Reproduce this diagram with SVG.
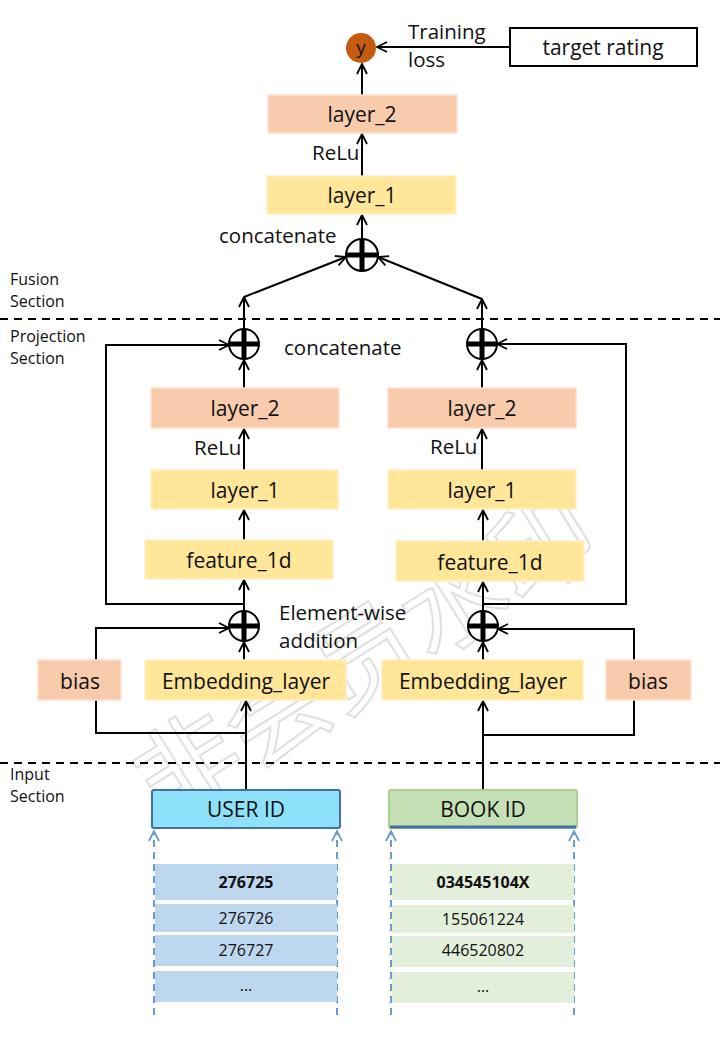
<svg xmlns="http://www.w3.org/2000/svg" width="720" height="1057" viewBox="0 0 720 1057">
<defs>
<marker id="ah" viewBox="0 0 12 12" refX="11" refY="6" markerWidth="12" markerHeight="12" markerUnits="userSpaceOnUse" orient="auto">
<path d="M1,1 L11,6 L1,11" fill="none" stroke="#000" stroke-width="1.8"/>
</marker>
<marker id="bh" viewBox="0 0 12 12" refX="11" refY="6" markerWidth="12" markerHeight="12" markerUnits="userSpaceOnUse" orient="auto">
<path d="M1,1 L11,6 L1,11" fill="none" stroke="#6a9bd1" stroke-width="1.8"/>
</marker>
</defs>
<style>
text{font-family:"Open Sans","Liberation Sans",sans-serif;fill:#111}
.lbl{font-size:21px;text-anchor:middle;dominant-baseline:central}
.note{font-size:20.5px}
.sec{font-size:16px}
.peach{fill:#f8cbad;stroke:#fbe0cf;stroke-width:1.5}
.yel{fill:#ffe699;stroke:#fff0c4;stroke-width:1.5}
.ln{fill:none;stroke:#000;stroke-width:2}
.arr{fill:none;stroke:#000;stroke-width:2;marker-end:url(#ah)}
.dash{stroke:#000;stroke-width:1.8;stroke-dasharray:8,6}
.bdash{fill:none;stroke:#6a9bd1;stroke-width:2;stroke-dasharray:7,5;marker-end:url(#bh)}
.tb{font-size:16px;text-anchor:middle;dominant-baseline:central}
.plus{fill:#fff;stroke:#000;stroke-width:2}
.bar{stroke:#000;stroke-width:5}
</style>
<rect width="720" height="1057" fill="#fff"/>
<text x="360" y="650" transform="rotate(-32 360 650)" font-size="104" text-anchor="middle" dominant-baseline="central" style="font-family:'Noto Sans CJK SC',sans-serif;fill:none;stroke:#e0e0e0;stroke-width:2">非会员水印</text>

<g id="sections">
<line x1="0" y1="319" x2="720" y2="319" class="dash"/>
<line x1="0" y1="763" x2="720" y2="763" class="dash"/>
<text x="10" y="285" class="sec">Fusion</text>
<text x="10" y="307" class="sec">Section</text>
<text x="10" y="342" class="sec">Projection</text>
<text x="10" y="364" class="sec">Section</text>
<text x="10" y="780" class="sec">Input</text>
<text x="10" y="802" class="sec">Section</text>
</g>

<g id="connectors">
<line x1="510" y1="47" x2="377" y2="47" class="arr"/>
<line x1="362" y1="95" x2="362" y2="64" class="arr"/>
<line x1="362" y1="176" x2="362" y2="134" class="arr"/>
<line x1="362" y1="239" x2="362" y2="215" class="arr"/>
<line x1="244" y1="297" x2="346" y2="257" class="arr"/>
<line x1="482" y1="299" x2="378" y2="257" class="arr"/>
<line x1="244" y1="329" x2="244" y2="297" class="arr"/>
<line x1="482" y1="329" x2="482" y2="299" class="arr"/>
<polyline points="244,604 106,604 106,345 229,345" class="arr"/>
<polyline points="482,604 626,604 626,344 497,344" class="arr"/>
<line x1="244" y1="388" x2="244" y2="360" class="arr"/>
<line x1="482" y1="388" x2="482" y2="360" class="arr"/>
<line x1="244" y1="470" x2="244" y2="429" class="arr"/>
<line x1="482" y1="470" x2="482" y2="429" class="arr"/>
<line x1="244" y1="540" x2="244" y2="510" class="arr"/>
<line x1="483" y1="541" x2="483" y2="510" class="arr"/>
<line x1="244" y1="611" x2="244" y2="580" class="arr"/>
<line x1="483" y1="611" x2="483" y2="582" class="arr"/>
<line x1="244" y1="660" x2="244" y2="642" class="arr"/>
<line x1="483" y1="660" x2="483" y2="642" class="arr"/>
<polyline points="96,660 96,628 229,628" class="arr"/>
<polyline points="634,660 634,629 498,629" class="arr"/>
<line x1="246" y1="790" x2="246" y2="701" class="arr"/>
<line x1="483" y1="790" x2="483" y2="701" class="arr"/>
<polyline points="96,700 96,733 246,733" class="ln"/>
<polyline points="634,700 634,735 483,735" class="ln"/>
<line x1="154" y1="1015" x2="154" y2="831" class="bdash"/>
<line x1="337" y1="1015" x2="337" y2="831" class="bdash"/>
<line x1="391" y1="1015" x2="391" y2="831" class="bdash"/>
<line x1="574" y1="1015" x2="574" y2="831" class="bdash"/>
</g>

<g id="labels">
<text x="408" y="39" class="note">Training</text>
<text x="408" y="67" class="note">loss</text>
<text x="312" y="160" class="note">ReLu</text>
<text x="219" y="243" class="note">concatenate</text>
<text x="284" y="355" class="note">concatenate</text>
<text x="194" y="455" class="note">ReLu</text>
<text x="430" y="454" class="note">ReLu</text>
<text x="279" y="620" class="note">Element-wise</text>
<text x="279" y="648" class="note">addition</text>
</g>

<g id="y-out">
<circle cx="361" cy="48" r="15" fill="#c55a11"/>
<text x="361" y="47" class="lbl" style="font-size:19px">y</text>
</g>
<g id="target">
<rect x="510" y="28" width="187" height="38" fill="#fff" stroke="#000" stroke-width="2"/>
<text x="603" y="47" class="lbl">target rating</text>
</g>
<g id="top-layer2"><rect x="268" y="95" width="189" height="38" class="peach"/><text x="362" y="114" class="lbl">layer_2</text></g>
<g id="top-layer1"><rect x="267" y="176" width="189" height="38" class="yel"/><text x="362" y="195" class="lbl">layer_1</text></g>

<g id="concat-top"><circle cx="362" cy="255" r="16" class="plus"/><line x1="346" y1="255" x2="378" y2="255" class="bar"/><line x1="362" y1="239" x2="362" y2="271" class="bar"/></g>
<g id="concat-left"><circle cx="244" cy="344" r="15" class="plus"/><line x1="229" y1="344" x2="259" y2="344" class="bar"/><line x1="244" y1="329" x2="244" y2="359" class="bar"/></g>
<g id="concat-right"><circle cx="482" cy="344" r="15" class="plus"/><line x1="467" y1="344" x2="497" y2="344" class="bar"/><line x1="482" y1="329" x2="482" y2="359" class="bar"/></g>
<g id="add-left"><circle cx="244" cy="626" r="15" class="plus"/><line x1="229" y1="626" x2="259" y2="626" class="bar"/><line x1="244" y1="611" x2="244" y2="641" class="bar"/></g>
<g id="add-right"><circle cx="483" cy="626" r="15" class="plus"/><line x1="468" y1="626" x2="498" y2="626" class="bar"/><line x1="483" y1="611" x2="483" y2="641" class="bar"/></g>

<g id="l-layer2"><rect x="151" y="388" width="188" height="40" class="peach"/><text x="245" y="408" class="lbl">layer_2</text></g>
<g id="r-layer2"><rect x="388" y="388" width="188" height="40" class="peach"/><text x="482" y="408" class="lbl">layer_2</text></g>
<g id="l-layer1"><rect x="151" y="470" width="187" height="39" class="yel"/><text x="245" y="490" class="lbl">layer_1</text></g>
<g id="r-layer1"><rect x="388" y="470" width="188" height="39" class="yel"/><text x="482" y="490" class="lbl">layer_1</text></g>
<g id="l-feature"><rect x="145" y="540" width="188" height="39" class="yel"/><text x="239" y="560" class="lbl">feature_1d</text></g>
<g id="r-feature"><rect x="396" y="541" width="188" height="40" class="yel"/><text x="490" y="562" class="lbl">feature_1d</text></g>
<g id="l-embed"><rect x="145" y="660" width="201" height="40" class="yel"/><text x="246" y="681" class="lbl">Embedding_layer</text></g>
<g id="r-embed"><rect x="382" y="660" width="201" height="40" class="yel"/><text x="483" y="681" class="lbl">Embedding_layer</text></g>
<g id="l-bias"><rect x="38" y="660" width="83" height="40" class="peach"/><text x="80" y="681" class="lbl">bias</text></g>
<g id="r-bias"><rect x="606" y="660" width="85" height="40" class="peach"/><text x="648" y="681" class="lbl">bias</text></g>

<g id="user-id"><rect x="152" y="790" width="188" height="38" rx="2" fill="#8ee1fa" stroke="#41719c" stroke-width="2"/><text x="246" y="809" class="lbl">USER ID</text></g>
<g id="book-id"><rect x="389" y="790" width="188" height="38" rx="2" fill="#c5e0b4" stroke="#a9d18e" stroke-width="2"/><line x1="390" y1="827" x2="576" y2="827" stroke="#41719c" stroke-width="3"/><text x="483" y="809" class="lbl">BOOK ID</text></g>

<g id="user-table">
<rect x="155" y="864" width="182" height="36" fill="#bdd7ee"/><text x="246" y="882" class="tb" font-weight="bold">276725</text>
<rect x="155" y="904" width="182" height="28" fill="#bdd7ee"/><text x="246" y="918" class="tb">276726</text>
<rect x="155" y="935" width="182" height="31" fill="#bdd7ee"/><text x="246" y="950" class="tb">276727</text>
<rect x="155" y="971" width="182" height="31" fill="#bdd7ee"/><text x="246" y="985" class="tb">...</text>
</g>
<g id="book-table">
<rect x="392" y="864" width="182" height="36" fill="#e2efda"/><text x="483" y="882" class="tb" font-weight="bold">034545104X</text>
<rect x="392" y="905" width="182" height="28" fill="#e2efda"/><text x="483" y="919" class="tb">155061224</text>
<rect x="392" y="936" width="182" height="31" fill="#e2efda"/><text x="483" y="950" class="tb">446520802</text>
<rect x="392" y="972" width="182" height="31" fill="#e2efda"/><text x="483" y="986" class="tb">...</text>
</g>
</svg>
